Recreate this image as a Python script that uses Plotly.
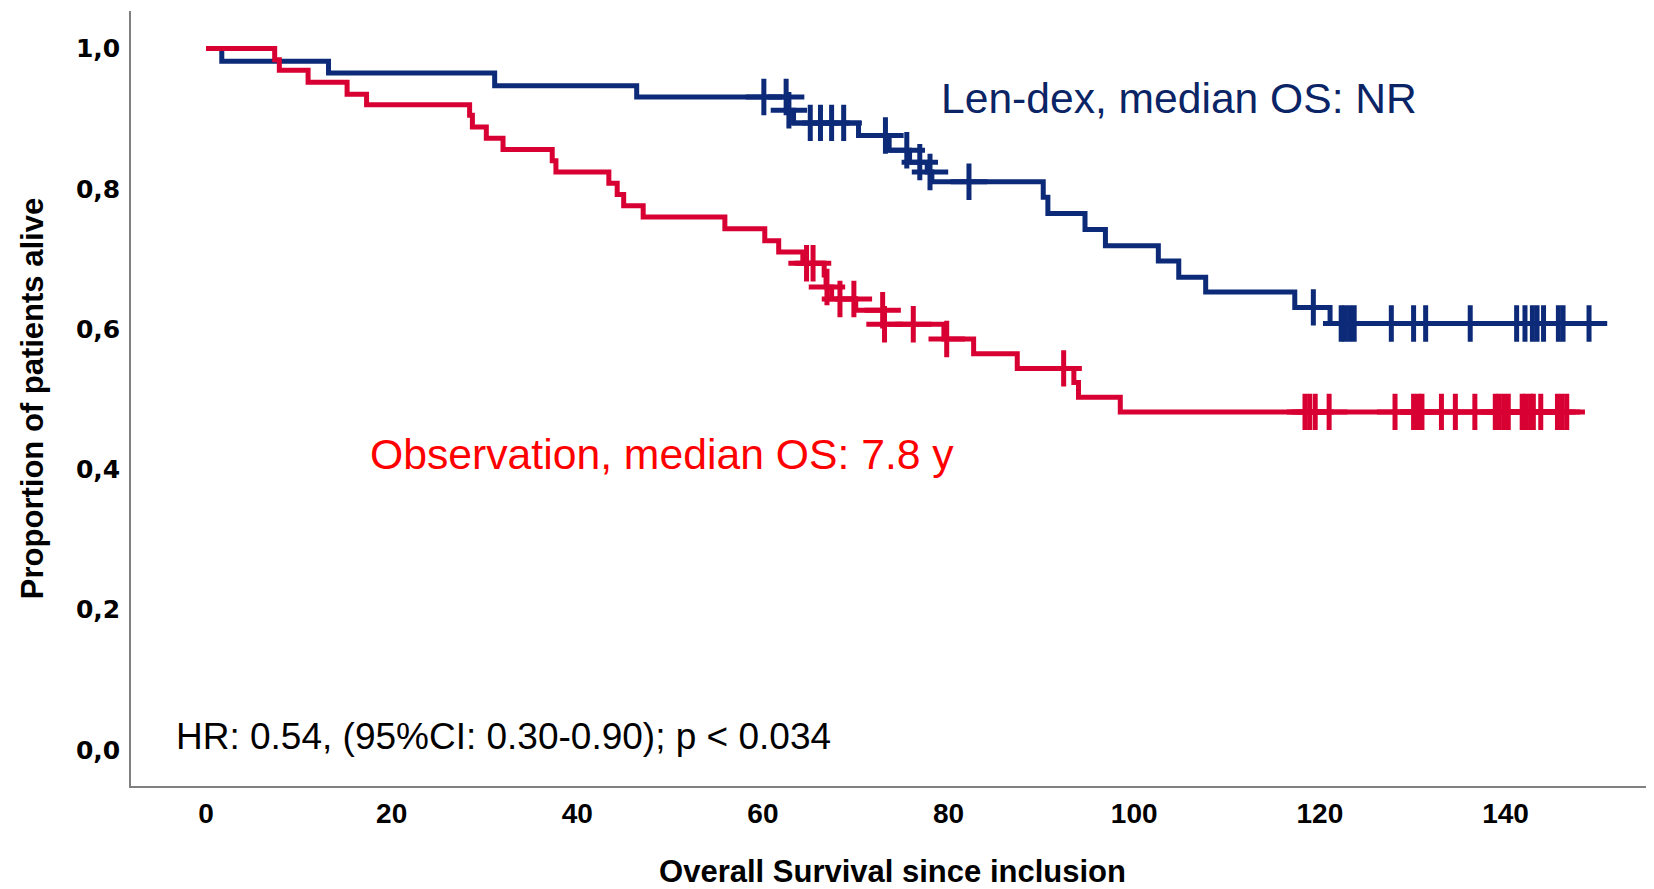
import numpy as np
import plotly.graph_objects as go

# ---- Data ----
# Len-dex arm: event times (months) and survival after each event
lendex_event_t = [0, 1.7, 13.2, 31.1, 46.4, 62.6, 63.3, 70.3, 73.6, 75.8, 77.7, 78.2,
                  90.2, 90.7, 94.7, 96.9, 102.6, 104.8, 107.7, 117.3, 121.1]
lendex_event_s = [1.0, 0.982, 0.965, 0.947, 0.931, 0.912, 0.894, 0.876, 0.855, 0.838, 0.824, 0.810,
                  0.788, 0.765, 0.742, 0.719, 0.697, 0.674, 0.653, 0.631, 0.608]
lendex_censor_t = [60.1, 62.5, 62.8, 65.1, 66.2, 67.4, 68.7, 73.2, 75.5, 76.9, 78.0, 82.2,
                   119.3, 122.3, 122.7, 123.2, 123.7, 127.7, 130.1, 131.4, 136.2,
                   141.2, 142.1, 142.9, 143.4, 144.1, 145.7, 146.2, 149.0]

# Observation arm
obs_event_t = [0, 7.4, 7.9, 11.0, 15.2, 17.3, 28.4, 28.7, 30.2, 32.0, 37.3, 37.7, 43.4, 44.3,
               45.0, 47.1, 55.9, 60.2, 61.7, 64.3, 66.6, 66.8, 67.4, 70.0, 73.0, 79.5,
               82.7, 87.4, 93.5, 94.0, 98.5]
obs_event_s = [1.0, 0.984, 0.969, 0.952, 0.935, 0.920, 0.905, 0.888, 0.872, 0.856, 0.840, 0.824,
               0.808, 0.792, 0.776, 0.760, 0.743, 0.726, 0.710, 0.694, 0.677, 0.660, 0.643,
               0.627, 0.607, 0.586, 0.565, 0.544, 0.524, 0.503, 0.482]
obs_censor_t = [64.7, 65.4, 66.9, 68.3, 69.8, 72.9, 73.1, 76.2, 79.8, 92.4, 118.4, 118.9, 119.5,
                121.0, 128.1, 130.1, 130.6, 131.0, 133.1, 134.6, 136.7, 138.9, 139.3, 139.8,
                140.3, 141.8, 142.2, 142.7, 143.0, 143.8, 145.6, 146.1, 146.6]

x_ticks = [0, 20, 40, 60, 80, 100, 120, 140]
y_ticks = [0.0, 0.2, 0.4, 0.6, 0.8, 1.0]

BLUE = "#0c2a78"
RED = "#d80032"


def step_curve(ev_t, ev_s, cens_t):
    t = list(ev_t) + [max(cens_t)]
    s = list(ev_s) + [ev_s[-1]]
    idx = np.searchsorted(np.array(ev_t), np.array(cens_t), side="right") - 1
    cs = [ev_s[i] for i in idx]
    return t, s, cs


fig = go.Figure()
for name, et, es, ct, col in [
    ("Len-dex", lendex_event_t, lendex_event_s, lendex_censor_t, BLUE),
    ("Observation", obs_event_t, obs_event_s, obs_censor_t, RED),
]:
    t, s, cs = step_curve(et, es, ct)
    fig.add_trace(go.Scatter(x=t, y=s, mode="lines", line=dict(color=col, width=5, shape="hv"),
                             name=name, showlegend=False, hoverinfo="skip"))
    fig.add_trace(go.Scatter(x=ct, y=cs, mode="markers", name=name + " censored", showlegend=False,
                             marker=dict(symbol="cross-thin", size=26,
                                         line=dict(color=col, width=5)),
                             hoverinfo="skip"))

fig.add_annotation(x=0.5304, y=0.888, xref="paper", yref="paper", xanchor="left", yanchor="middle",
                   text="Len-dex, median OS: NR", showarrow=False,
                   font=dict(family="Liberation Sans, Arial", size=42.6, color="#0a2466"))
fig.add_annotation(x=0.1556, y=0.4285, xref="paper", yref="paper", xanchor="left", yanchor="middle",
                   text="Observation, median OS: 7.8 y", showarrow=False,
                   font=dict(family="Liberation Sans, Arial", size=42.7, color="#ff0000"))
fig.add_annotation(x=0.0282, y=0.0644, xref="paper", yref="paper", xanchor="left", yanchor="middle",
                   text="HR: 0.54, (95%CI: 0.30-0.90); p < 0.034", showarrow=False,
                   font=dict(family="Liberation Sans, Arial", size=37, color="#000000"))

# the page body adds an 8px offset, so the figure is sized/margined to compensate
fig.update_layout(
    width=1646, height=881,
    margin=dict(l=123, r=0, t=3, b=103),
    paper_bgcolor="white", plot_bgcolor="white",
    separators=",.",
    showlegend=False,
    xaxis=dict(range=[-8.08, 156.0], tickvals=x_ticks, showgrid=False, zeroline=False,
               showline=True, linecolor="#808080", linewidth=1.5, ticks="",
               ticklabelstandoff=2, automargin=False,
               tickfont=dict(family="Liberation Sans, Arial", size=28, color="#000000", weight="bold"),
               title=dict(text="Overall Survival since inclusion", standoff=54,
                          font=dict(family="Liberation Sans, Arial", size=31, color="#000000", weight="bold"))),
    yaxis=dict(range=[-0.0513, 1.0535], tickvals=y_ticks, tickformat=".1f", showgrid=False, zeroline=False,
               showline=True, linecolor="#808080", linewidth=1.5, ticks="",
               ticklabelstandoff=4, automargin=False,
               tickfont=dict(family="DejaVu Sans", size=25, color="#000000", weight="bold"),
               title=dict(text="Proportion of patients alive", standoff=23,
                          font=dict(family="Liberation Sans, Arial", size=31, color="#000000", weight="bold"))),
)

fig.write_html("out.html")
